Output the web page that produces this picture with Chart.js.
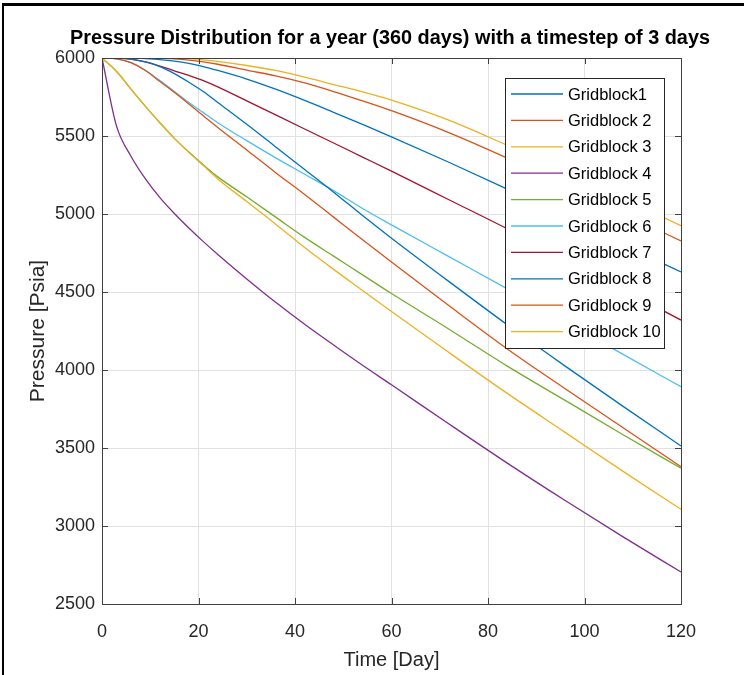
<!DOCTYPE html>
<html>
<head>
<meta charset="utf-8">
<title>Pressure Distribution</title>
<script src="https://cdn.jsdelivr.net/npm/chart.js@4.4.1/dist/chart.umd.min.js"></script>
<style>
  html, body { margin: 0; padding: 0; background: #fff; }
  #wrap { width: 744px; height: 675px; }
</style>
</head>
<body>
<div id="wrap"><canvas id="chart" width="744" height="675"></canvas></div>
<script>
// time levels (days)
const days = [0, 3, 6, 9, 12, 15, 18, 21, 24, 30, 36, 42, 48, 54, 60, 72, 84, 96, 108, 120];

// pressure [psia] per gridblock
const gridblock1 = [6000, 6000, 5993, 5975, 5945, 5900, 5845, 5785, 5715, 5575, 5430, 5285, 5140, 4990, 4845, 4565, 4290, 4025, 3767, 3513];
const gridblock2 = [6000, 5995, 5970, 5920, 5850, 5780, 5705, 5630, 5555, 5410, 5265, 5125, 4980, 4835, 4692, 4410, 4135, 3880, 3630, 3380];
const gridblock3 = [6000, 5915, 5800, 5690, 5585, 5485, 5395, 5310, 5225, 5080, 4935, 4785, 4645, 4510, 4375, 4110, 3850, 3600, 3350, 3107];
const gridblock4 = [6000, 5565, 5370, 5225, 5105, 5003, 4910, 4823, 4741, 4584, 4434, 4293, 4160, 4030, 3905, 3652, 3403, 3163, 2930, 2705];
const gridblock5 = [6000, 5915, 5800, 5690, 5585, 5485, 5397, 5315, 5238, 5110, 4980, 4850, 4730, 4610, 4490, 4260, 4025, 3805, 3585, 3370];
const gridblock6 = [6000, 5995, 5970, 5920, 5855, 5785, 5715, 5650, 5585, 5470, 5360, 5255, 5150, 5035, 4930, 4725, 4520, 4310, 4100, 3893];
const gridblock7 = [6000, 6000, 5993, 5975, 5948, 5918, 5888, 5855, 5815, 5725, 5635, 5545, 5455, 5365, 5275, 5090, 4905, 4712, 4517, 4320];
const gridblock8 = [6000, 6000, 6000, 5996, 5990, 5980, 5965, 5945, 5920, 5865, 5800, 5728, 5652, 5575, 5495, 5330, 5160, 4985, 4805, 4628];
const gridblock9 = [6000, 6000, 6000, 6000, 5998, 5995, 5987, 5975, 5960, 5922, 5885, 5840, 5785, 5725, 5662, 5520, 5358, 5185, 5005, 4827];
const gridblock10 = [6000, 6000, 6000, 6000, 6000, 6000, 5996, 5988, 5978, 5952, 5920, 5877, 5830, 5783, 5730, 5600, 5440, 5275, 5100, 4925];

const seriesNames = ['Gridblock1', 'Gridblock 2', 'Gridblock 3', 'Gridblock 4', 'Gridblock 5',
                     'Gridblock 6', 'Gridblock 7', 'Gridblock 8', 'Gridblock 9', 'Gridblock 10'];
const xTickValues = [0, 20, 40, 60, 80, 100, 120];
const yTickValues = [2500, 3000, 3500, 4000, 4500, 5000, 5500, 6000];
const chartTitle = 'Pressure Distribution for a year (360 days) with a timestep of 3 days';

// matlab default line colours
const colors = ['#0072BD', '#D95319', '#EDB120', '#7E2F8E', '#77AC30', '#4DBEEE', '#A2142F',
                '#0072BD', '#D95319', '#EDB120'];

const FONT = "'Liberation Sans', Arial, Helvetica, sans-serif";
Chart.defaults.font.family = FONT;

const allSeries = [gridblock1, gridblock2, gridblock3, gridblock4, gridblock5,
                   gridblock6, gridblock7, gridblock8, gridblock9, gridblock10];

const datasets = allSeries.map((vals, i) => ({
    label: seriesNames[i],
    data: days.map((d, j) => ({ x: d, y: vals[j] })),
    borderColor: colors[i],
    backgroundColor: colors[i],
    borderWidth: 1.3,
    pointRadius: 0,
    cubicInterpolationMode: 'monotone',
    fill: false
}));

// white page, black frame lines on the top and left edge, and the bold title
const framePlugin = {
    id: 'frame',
    beforeDraw(chart) {
        const ctx = chart.ctx;
        ctx.save();
        ctx.fillStyle = '#fff';
        ctx.fillRect(0, 0, chart.width, chart.height);
        ctx.strokeStyle = '#000';
        ctx.lineWidth = 3;
        ctx.beginPath();
        ctx.moveTo(2, 4.5);
        ctx.lineTo(chart.width, 4.5);
        ctx.stroke();
        ctx.lineWidth = 2;
        ctx.beginPath();
        ctx.moveTo(3, 3);
        ctx.lineTo(3, chart.height);
        ctx.stroke();
        // title is centred over the axes like matlab does
        ctx.font = 'bold 20px ' + FONT;
        ctx.fillStyle = '#000';
        ctx.textAlign = 'center';
        ctx.textBaseline = 'middle';
        ctx.fillText(chartTitle, 390, 38, 640);
        ctx.restore();
    }
};

// box around axes + inward ticks on all four sides
const axesBoxPlugin = {
    id: 'axesBox',
    afterDatasetsDraw(chart) {
        const { ctx, chartArea: a, scales } = chart;
        const len = 6;
        ctx.save();
        ctx.strokeStyle = '#404040';
        ctx.lineWidth = 1;
        ctx.strokeRect(a.left + 0.5, a.top + 0.5, a.right - a.left, a.bottom - a.top);
        ctx.beginPath();
        xTickValues.forEach(v => {
            const px = Math.round(scales.x.getPixelForValue(v)) + 0.5;
            ctx.moveTo(px, a.bottom); ctx.lineTo(px, a.bottom - len);
            ctx.moveTo(px, a.top); ctx.lineTo(px, a.top + len);
        });
        yTickValues.forEach(v => {
            const py = Math.round(scales.y.getPixelForValue(v)) + 0.5;
            ctx.moveTo(a.left, py); ctx.lineTo(a.left + len, py);
            ctx.moveTo(a.right, py); ctx.lineTo(a.right - len, py);
        });
        ctx.stroke();
        ctx.restore();
    }
};

// legend box in the upper right of the axes, matlab style
const boxLegendPlugin = {
    id: 'boxLegend',
    afterDraw(chart) {
        const { ctx, chartArea: a } = chart;
        const x0 = a.right - 176, y0 = a.top + 20;
        const w = 159, h = 270, row = 26.4;
        ctx.save();
        ctx.fillStyle = '#fff';
        ctx.fillRect(x0, y0, w, h);
        ctx.strokeStyle = '#262626';
        ctx.lineWidth = 1;
        ctx.strokeRect(x0 + 0.5, y0 + 0.5, w, h);
        ctx.font = '16.5px ' + FONT;
        ctx.textBaseline = 'middle';
        ctx.fillStyle = '#000';
        chart.data.datasets.forEach((ds, i) => {
            const cy = y0 + 16 + i * row;
            ctx.strokeStyle = ds.borderColor;
            ctx.lineWidth = 1.3;
            ctx.beginPath();
            ctx.moveTo(x0 + 6, cy);
            ctx.lineTo(x0 + 58, cy);
            ctx.stroke();
            ctx.fillText(ds.label, x0 + 63, cy + 1);
        });
        ctx.restore();
    }
};

new Chart(document.getElementById('chart'), {
    type: 'line',
    data: { datasets },
    plugins: [framePlugin, axesBoxPlugin, boxLegendPlugin],
    options: {
        responsive: false,
        animation: false,
        layout: { padding: { left: 0, right: 63, top: 58, bottom: 0 } },
        plugins: {
            legend: { display: false },
            tooltip: { enabled: false },
            title: { display: false }
        },
        scales: {
            x: {
                type: 'linear',
                min: 0,
                max: 120,
                afterBuildTicks: s => { s.ticks = xTickValues.map(v => ({ value: v })); },
                afterFit: s => { s.height = 71; },
                grid: { color: '#e1e1e1', drawTicks: false },
                border: { display: false },
                ticks: { color: '#262626', padding: 17, font: { size: 18 }, maxRotation: 0, callback: v => String(v) },
                title: { display: true, text: 'Time [Day]', color: '#262626', font: { size: 20 }, padding: { top: 0, bottom: 3 } }
            },
            y: {
                min: 2500,
                max: 6000,
                afterBuildTicks: s => { s.ticks = yTickValues.map(v => ({ value: v })); },
                afterFit: s => { s.width = 102; },
                grid: { color: '#e1e1e1', drawTicks: false },
                border: { display: false },
                ticks: { color: '#262626', padding: 7, font: { size: 18 }, callback: v => String(v) },
                title: { display: true, text: 'Pressure [Psia]', color: '#262626', font: { size: 21 }, padding: { top: 26, bottom: 0 } }
            }
        }
    }
});
</script>
</body>
</html>
